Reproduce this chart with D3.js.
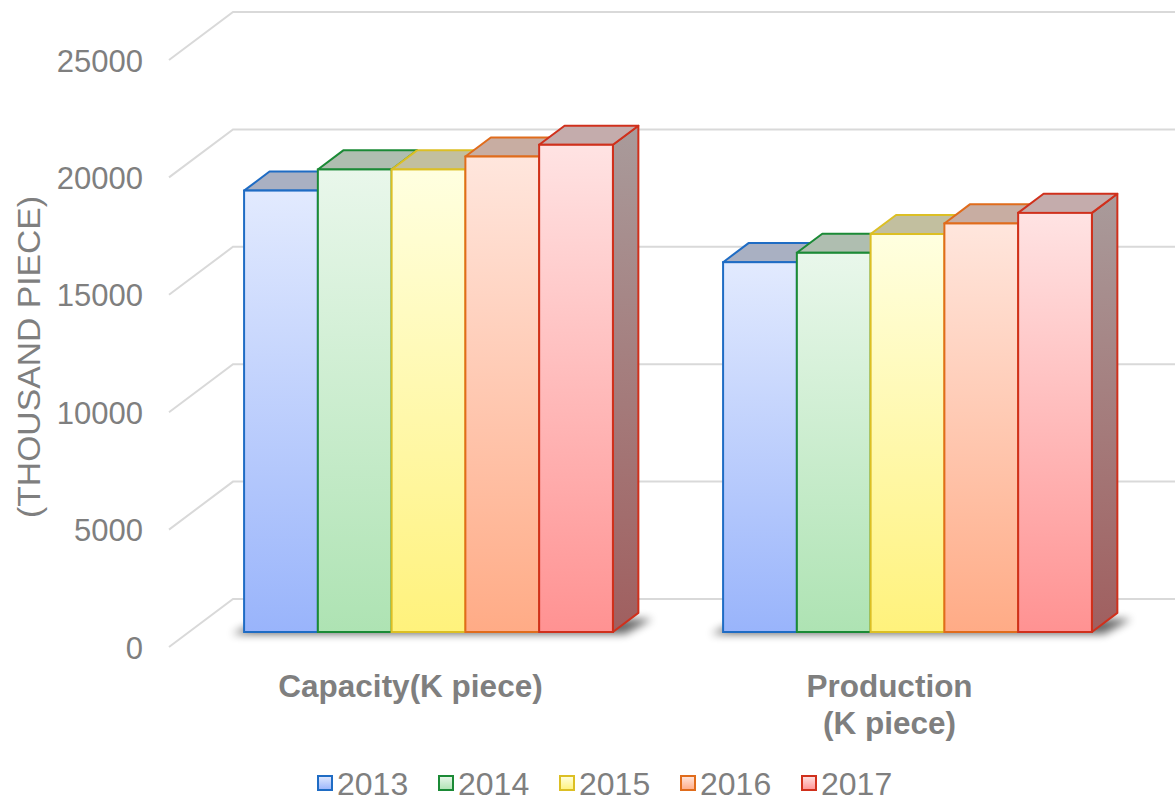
<!DOCTYPE html>
<html>
  <head>
    <meta charset="utf-8">
    <title>Capacity and production</title>
    <script src="https://d3js.org/d3.v7.min.js"></script>
    <style>
      body { margin: 0; background: #fff; }
      svg { display: block; font-family: "Liberation Sans", Arial, sans-serif; }
      .tick text { fill: #7f7f7f; font-size: 31px; }
      .grid { stroke: #d9d9d9; stroke-width: 2; fill: none; }
      .catLabel { fill: #7f7f7f; font-size: 31.5px; font-weight: bold; text-anchor: middle; }
      .legendText { fill: #7f7f7f; font-size: 32px; }
    </style>
  </head>
  <body>
    <svg id="chart" width="1175" height="801"></svg>
    <script>
      // data
      const categories = ["Capacity(K piece)", "Production\n(K piece)"];
      const years = ["2013", "2014", "2015", "2016", "2017"];
      const values2013 = [18800, 15750];
      const values2014 = [19700, 16150];
      const values2015 = [19700, 16950];
      const values2016 = [20250, 17400];
      const values2017 = [20750, 17850];
      const yTicks = [0, 5000, 10000, 15000, 20000, 25000];
      const seriesValues = [values2013, values2014, values2015, values2016, values2017];

      // colours per year: front top, front bottom, outline, top face, side top, side bottom
      const palette = [
        { light: "#e2eafe", dark: "#99b4fb", line: "#1f6cc4", top: "#a9b0c2", side1: "#9ea6bb", side2: "#6d7ea8" },
        { light: "#e9f7eb", dark: "#aee3b3", line: "#1b8a36", top: "#afbeb0", side1: "#a3b3a5", side2: "#739c79" },
        { light: "#ffffe0", dark: "#fff27c", line: "#dcbf24", top: "#c2bf9f", side1: "#b7b499", side2: "#aea060" },
        { light: "#ffe6dd", dark: "#ffab86", line: "#e06c1c", top: "#c8ada2", side1: "#b7a19a", side2: "#ad7560" },
        { light: "#ffe3e3", dark: "#ff9292", line: "#d0301c", top: "#c4acac", side1: "#a99b9b", side2: "#a05f5f" }
      ];

      const svg = d3.select("#chart");
      const defs = svg.append("defs");

      // 3D layout: depth goes up and right
      const depthX = 64, depthY = -48;
      const barFront = 0.3125, barBack = 0.71;

      const y = d3.scaleLinear()
        .domain([0, 25000])
        .range([647, 60]);
      const x0 = d3.scaleBand()
        .domain(categories)
        .range([169, 1127])
        .paddingInner(0.23)
        .paddingOuter(0.115);
      const x1 = d3.scaleBand()
        .domain(years)
        .range([0, x0.bandwidth()]);

      // gradients
      palette.forEach(function(p, i) {
        let g = defs.append("linearGradient")
          .attr("id", "front" + i)
          .attr("x1", 0).attr("y1", 0).attr("x2", 0).attr("y2", 1);
        g.append("stop").attr("offset", 0).attr("stop-color", p.light);
        g.append("stop").attr("offset", 1).attr("stop-color", p.dark);
        let s = defs.append("linearGradient")
          .attr("id", "side" + i)
          .attr("x1", 0).attr("y1", 0).attr("x2", 0).attr("y2", 1);
        s.append("stop").attr("offset", 0).attr("stop-color", p.side1);
        s.append("stop").attr("offset", 1).attr("stop-color", p.side2);
      });
      defs.append("filter")
        .attr("id", "blur")
        .attr("x", -0.2).attr("y", -1).attr("width", 1.4).attr("height", 3)
        .append("feGaussianBlur")
          .attr("stdDeviation", 4);

      // grid: back wall lines plus left side diagonals
      const gridGroup = svg.append("g");
      yTicks.forEach(function(t) {
        let yf = y(t);
        gridGroup.append("path")
          .classed("grid", true)
          .attr("d", "M" + 169 + "," + yf + "L" + (169 + depthX) + "," + (yf + depthY) + "L1175," + (yf + depthY));
      });

      // y axis labels
      const yAxis = d3.axisLeft(y)
        .tickValues(yTicks)
        .tickSize(0)
        .tickPadding(0)
        .tickFormat(d3.format("d"));
      svg.append("g")
        .attr("transform", "translate(143, 0)")
        .call(yAxis)
        .call(function(g) { g.select(".domain").remove(); })
        .selectAll("text")
          .attr("dy", "0.36em")
          .attr("font-family", "Liberation Sans, Arial, sans-serif");

      svg.append("text")
        .attr("transform", "translate(40, 357) rotate(-90)")
        .attr("text-anchor", "middle")
        .attr("fill", "#7f7f7f")
        .attr("font-size", 31)
        .attr("textLength", 322)
        .attr("lengthAdjust", "spacingAndGlyphs")
        .text("(THOUSAND PIECE)");

      // bars
      const fx = depthX * barFront, fy = depthY * barFront;
      const bx = depthX * (barBack - barFront), by = depthY * (barBack - barFront);
      const barGroup = svg.append("g");

      categories.forEach(function(cat, ci) {
        let left = x0(cat) + fx;
        let right = x0(cat) + x0.bandwidth() + fx;
        let base = y(0) + fy;
        // shadow on the floor
        barGroup.append("path")
          .attr("d", "M" + (left - 12) + "," + (base + 2) + "L" + (left + bx - 6) + "," + (base + by + 6) +
            "L" + (right + bx + 14) + "," + (base + by + 6) + "L" + (right + 12) + "," + (base + 2) + "Z")
          .attr("fill", "#000")
          .attr("opacity", 0.6)
          .attr("filter", "url(#blur)");
        years.forEach(function(yr, i) {
          let v = seriesValues[i][ci];
          let xl = x0(cat) + x1(yr) + fx;
          let xr = xl + x1.bandwidth();
          let yt = y(v) + fy;
          let p = palette[i];
          let bar = barGroup.append("g");
          bar.append("path")
            .attr("d", "M" + xr + "," + yt + "L" + (xr + bx) + "," + (yt + by) + "L" + (xr + bx) + "," + (base + by) + "L" + xr + "," + base + "Z")
            .attr("fill", "url(#side" + i + ")")
            .attr("stroke", p.line)
            .attr("stroke-width", 2)
            .attr("stroke-linejoin", "round");
          bar.append("path")
            .attr("d", "M" + xl + "," + yt + "L" + (xl + bx) + "," + (yt + by) + "L" + (xr + bx) + "," + (yt + by) + "L" + xr + "," + yt + "Z")
            .attr("fill", p.top)
            .attr("stroke", p.line)
            .attr("stroke-width", 2)
            .attr("stroke-linejoin", "round");
          bar.append("rect")
            .attr("x", xl)
            .attr("y", yt)
            .attr("width", x1.bandwidth())
            .attr("height", base - yt)
            .attr("fill", "url(#front" + i + ")")
            .attr("stroke", p.line)
            .attr("stroke-width", 2);
        });
      });

      // category labels
      categories.forEach(function(cat) {
        let lines = cat.split("\n");
        let cx = x0(cat) + x0.bandwidth() / 2 + fx - 18;
        let t = svg.append("text")
          .classed("catLabel", true)
          .attr("x", cx)
          .attr("y", 697);
        lines.forEach(function(l, li) {
          t.append("tspan")
            .attr("x", cx)
            .attr("dy", li == 0 ? 0 : 37)
            .text(l);
        });
      });

      // legend
      const legend = svg.append("g")
        .attr("transform", "translate(318, 776)");
      const legendItems = legend.selectAll("g")
          .data(years)
        .enter().append("g")
          .attr("transform", function(d, i) { return "translate(" + (i * 121) + ",0)"; });
      legendItems.append("rect")
        .attr("width", 14)
        .attr("height", 14)
        .attr("fill", function(d, i) { return "url(#front" + i + ")"; })
        .attr("stroke", function(d, i) { return palette[i].line; })
        .attr("stroke-width", 2);
      legendItems.append("text")
        .classed("legendText", true)
        .attr("x", 19)
        .attr("y", 19)
        .text(function(d) { return d; });
    </script>
  </body>
</html>
